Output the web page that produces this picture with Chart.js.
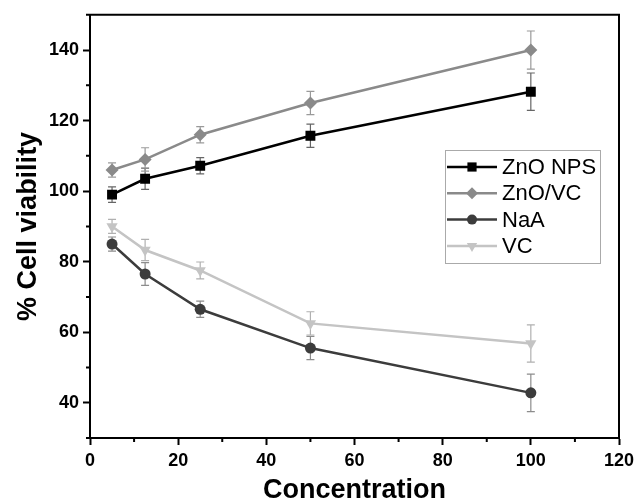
<!DOCTYPE html>
<html>
<head>
<meta charset="utf-8">
<script src="https://cdn.jsdelivr.net/npm/chart.js"></script>
<style>
  body { margin: 0; background: #fff; }
  #wrap { width: 644px; height: 503px; }
</style>
</head>
<body>
<div id="wrap"><canvas id="cell-chart" width="644" height="503"></canvas></div>
<script>
// concentrations (x)
const concentrations = [5, 12.5, 25, 50, 100];

const seriesNames = ['ZnO NPS', 'ZnO/VC', 'NaA', 'VC'];

// % cell viability
const znoNps = [99, 103.5, 107.2, 115.7, 128.2];
const znoVc = [106, 109, 116, 125, 140];
const naa = [85, 76.5, 66.5, 55.5, 42.8];
const vc = [90, 83.3, 77.5, 62.5, 56.8];

// error bars (+/-)
const znoNpsErr = [2.2, 3, 2.3, 3.3, 5.3];
const znoVcErr = [2, 3.3, 2.3, 3.3, 5.4];
const naaErr = [2, 3.2, 2.3, 3.3, 5.3];
const vcErr = [2, 3, 2.4, 3.3, 5.3];

const yTicks = [40, 60, 80, 100, 120, 140];
const xTicks = [0, 20, 40, 60, 80, 100, 120];

const FONT = "'Liberation Sans', Arial, sans-serif";

function pts(vals, errs) {
    return concentrations.map((c, i) => ({ x: c, y: vals[i], err: errs[i] }));
}

// small marker drawing, used by the legend
function drawMarker(ctx, style, x, y, r, rot) {
    ctx.beginPath();
    if (style === 'rect') {
        const s = r * Math.SQRT1_2;
        ctx.rect(x - s, y - s, 2 * s, 2 * s);
    } else if (style === 'rectRot') {
        ctx.moveTo(x, y - r); ctx.lineTo(x + r, y); ctx.lineTo(x, y + r); ctx.lineTo(x - r, y);
        ctx.closePath();
    } else if (style === 'triangle') {
        const d = rot ? 1 : -1;
        ctx.moveTo(x, y + d * r);
        ctx.lineTo(x - r * 0.866, y - d * r * 0.5);
        ctx.lineTo(x + r * 0.866, y - d * r * 0.5);
        ctx.closePath();
    } else {
        ctx.arc(x, y, r, 0, Math.PI * 2);
    }
    ctx.fill();
}

const errorBars = {
    id: 'errorBars',
    beforeDatasetsDraw(chart) {
        const ctx = chart.ctx;
        const xs = chart.scales.x, ys = chart.scales.y;
        chart.data.datasets.forEach(ds => {
            ctx.save();
            ctx.strokeStyle = ds.errColor;
            ctx.lineWidth = 1.2;
            ds.data.forEach(p => {
                const px = xs.getPixelForValue(p.x);
                const top = ys.getPixelForValue(p.y + p.err);
                const bot = ys.getPixelForValue(p.y - p.err);
                ctx.beginPath();
                ctx.moveTo(px, top); ctx.lineTo(px, bot);
                ctx.moveTo(px - 4, top); ctx.lineTo(px + 4, top);
                ctx.moveTo(px - 4, bot); ctx.lineTo(px + 4, bot);
                ctx.stroke();
            });
            ctx.restore();
        });
    }
};

const frameAndLegend = {
    id: 'frameAndLegend',
    afterDraw(chart) {
        const ctx = chart.ctx;
        const a = chart.chartArea;
        ctx.save();
        // top / right frame
        ctx.strokeStyle = '#000';
        ctx.lineWidth = 2;
        ctx.beginPath();
        ctx.moveTo(a.left, a.top); ctx.lineTo(a.right, a.top); ctx.lineTo(a.right, a.bottom);
        ctx.stroke();

        // minor ticks
        const xs = chart.scales.x, ys = chart.scales.y;
        ctx.beginPath();
        xs.ticks.forEach(t => {
            if (t.value % 20 !== 0) {
                const px = xs.getPixelForValue(t.value);
                ctx.moveTo(px, a.bottom); ctx.lineTo(px, a.bottom + 4);
            }
        });
        ys.ticks.forEach(t => {
            if (t.value % 20 !== 0) {
                const py = ys.getPixelForValue(t.value);
                ctx.moveTo(a.left, py); ctx.lineTo(a.left - 4, py);
            }
        });
        ctx.stroke();

        // legend box
        const bx = 445, by = 150, bw = 155, bh = 113;
        ctx.strokeStyle = '#aaa';
        ctx.lineWidth = 1;
        ctx.strokeRect(bx + 0.5, by + 0.5, bw, bh);
        ctx.font = '22px ' + FONT;
        ctx.textBaseline = 'middle';
        chart.data.datasets.forEach((ds, i) => {
            const y = by + 17 + i * 26.3;
            ctx.strokeStyle = ds.borderColor;
            ctx.lineWidth = 2.5;
            ctx.beginPath();
            ctx.moveTo(bx + 2, y); ctx.lineTo(bx + 52, y);
            ctx.stroke();
            ctx.fillStyle = ds.pointBackgroundColor;
            drawMarker(ctx, ds.pointStyle, bx + 27, y, ds.pointRadius - 0.5, ds.pointRotation);
            ctx.fillStyle = '#000';
            ctx.fillText(ds.label, bx + 57, y + 1);
        });
        ctx.restore();
    }
};

function makeSet(label, vals, errs, color, errColor, style, radius, rotation) {
    return {
        label: label,
        data: pts(vals, errs),
        borderColor: color,
        backgroundColor: color,
        pointBackgroundColor: color,
        pointBorderColor: color,
        pointBorderWidth: 0,
        pointStyle: style,
        pointRadius: radius,
        pointRotation: rotation || 0,
        borderWidth: 2.5,
        errColor: errColor,
        tension: 0
    };
}

new Chart(document.getElementById('cell-chart').getContext('2d'), {
    type: 'line',
    data: {
        datasets: [
            makeSet(seriesNames[0], znoNps, znoNpsErr, '#000000', '#666666', 'rect', 7),
            makeSet(seriesNames[1], znoVc, znoVcErr, '#8a8a8a', '#9a9a9a', 'rectRot', 6.5),
            makeSet(seriesNames[2], naa, naaErr, '#3c3c3c', '#8c8c8c', 'circle', 5.5),
            makeSet(seriesNames[3], vc, vcErr, '#c4c4c4', '#b0b0b0', 'triangle', 6.5, 180)
        ]
    },
    options: {
        responsive: false,
        animation: false,
        layout: { padding: { top: 14, right: 25, left: 0, bottom: 0 } },
        plugins: {
            legend: { display: false },
            tooltip: { enabled: false }
        },
        scales: {
            x: {
                type: 'linear',
                min: 0,
                max: 120,
                afterFit(scale) { scale.height = 65; },
                border: { color: '#000', width: 2 },
                grid: {
                    drawOnChartArea: false,
                    tickLength: 7,
                    tickWidth: 2,
                    tickColor: c => (c.tick && c.tick.value % 20 === 0) ? '#000' : 'rgba(0,0,0,0)'
                },
                ticks: {
                    stepSize: 10,
                    autoSkip: false,
                    maxRotation: 0,
                    padding: 5,
                    color: '#000',
                    font: { family: FONT, size: 18, weight: 'bold' },
                    callback: v => xTicks.includes(v) ? String(v) : ''
                },
                title: {
                    display: true,
                    text: 'Concentration',
                    color: '#000',
                    padding: 0,
                    font: { family: FONT, size: 27, weight: 'bold', lineHeight: 0.9 }
                }
            },
            y: {
                min: 30,
                max: 150,
                afterFit(scale) { scale.width = 90; },
                border: { color: '#000', width: 2 },
                grid: {
                    drawOnChartArea: false,
                    tickLength: 7,
                    tickWidth: 2,
                    tickColor: c => (c.tick && c.tick.value % 20 === 0) ? '#000' : 'rgba(0,0,0,0)'
                },
                ticks: {
                    stepSize: 10,
                    autoSkip: false,
                    padding: 4,
                    color: '#000',
                    font: { family: FONT, size: 18, weight: 'bold' },
                    callback: v => yTicks.includes(v) ? String(v) : ''
                },
                title: {
                    display: true,
                    text: '% Cell viability',
                    color: '#000',
                    padding: { top: 12, bottom: 0 },
                    font: { family: FONT, size: 27, weight: 'bold' }
                }
            }
        }
    },
    plugins: [errorBars, frameAndLegend]
});
</script>
</body>
</html>
